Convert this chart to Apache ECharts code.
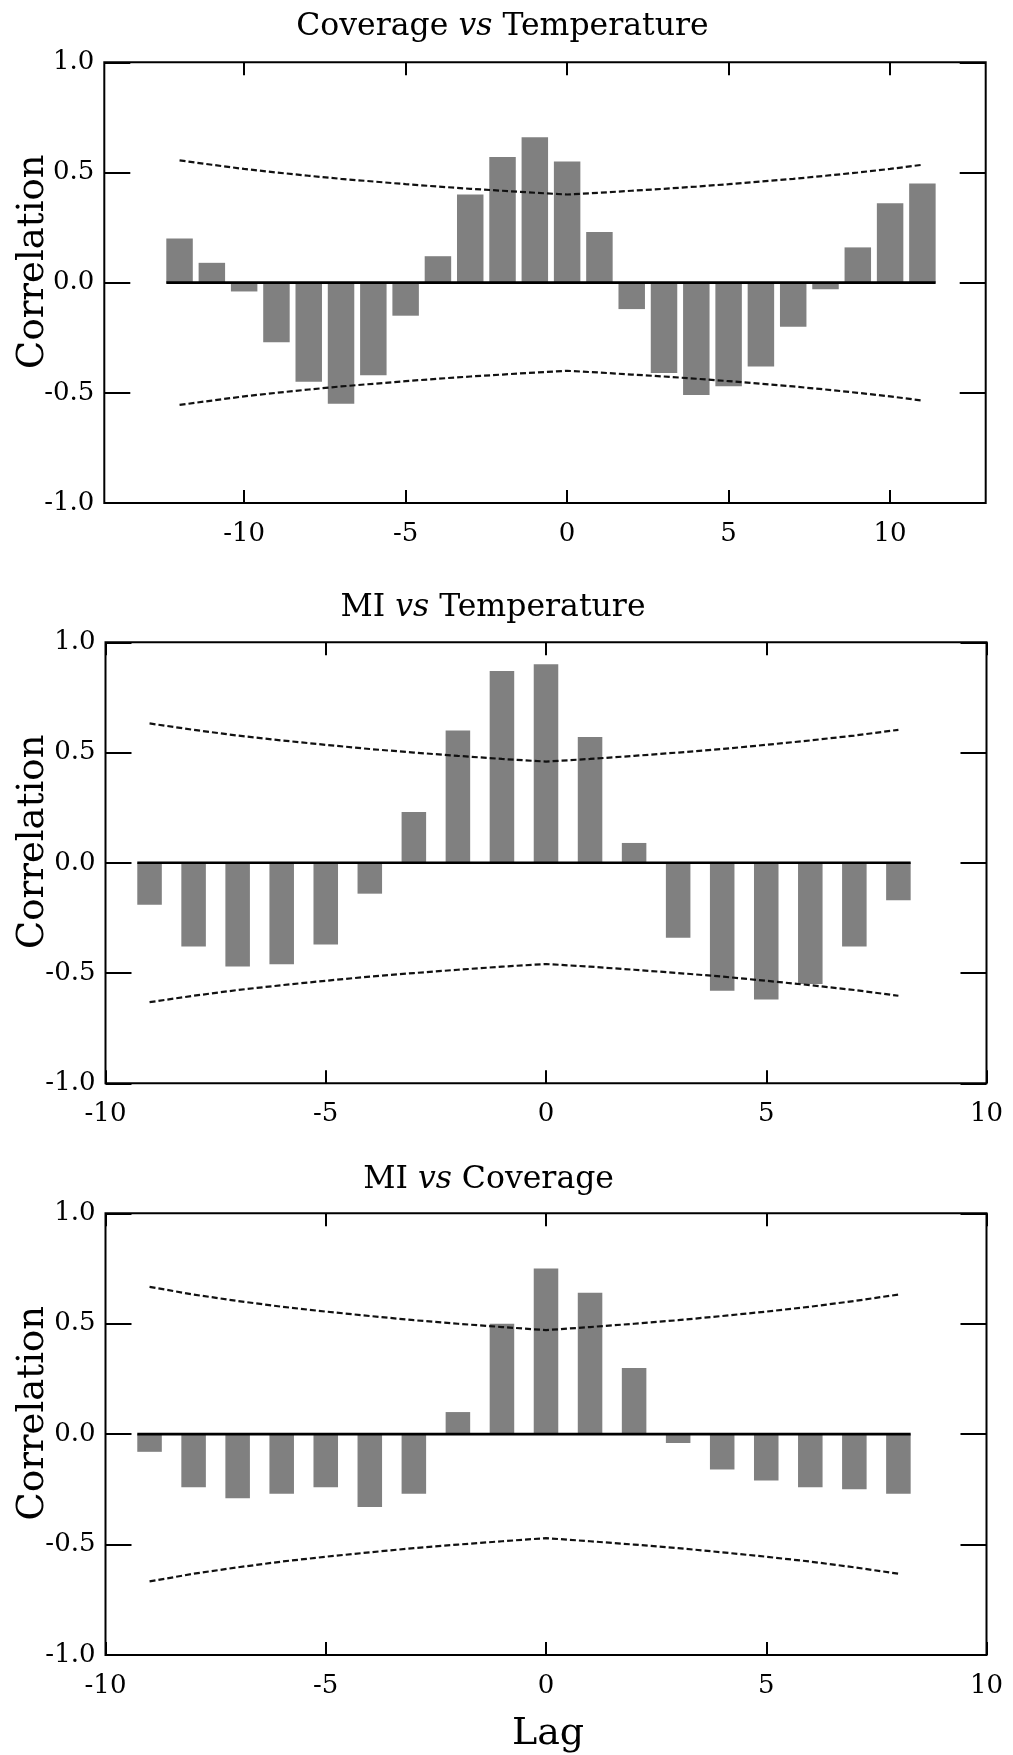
<!DOCTYPE html>
<html>
<head>
<meta charset="utf-8">
<script src="https://cdn.jsdelivr.net/npm/echarts@6/dist/echarts.min.js"></script>
<style>
html,body{margin:0;padding:0;background:#fff;}
#chart{width:1013px;height:1755px;}
</style>
</head>
<body>
<div id="chart"></div>
<script>
// ---------- DATA ----------
// Panel 1: Coverage vs Temperature
const lags1 = [-12,-11,-10,-9,-8,-7,-6,-5,-4,-3,-2,-1,0,1,2,3,4,5,6,7,8,9,10,11];
const ccf1  = [0.20,0.09,-0.04,-0.27,-0.45,-0.55,-0.42,-0.15,0.12,0.40,0.57,0.66,0.55,0.23,-0.12,-0.41,-0.51,-0.47,-0.38,-0.20,-0.03,0.16,0.36,0.45];
const upper1 = [0.555,0.535,0.516,0.500,0.485,0.471,0.459,0.447,0.436,0.426,0.417,0.408,0.400,0.408,0.417,0.426,0.436,0.447,0.459,0.471,0.485,0.500,0.516,0.535];
const lower1 = [-0.555,-0.535,-0.516,-0.500,-0.485,-0.471,-0.459,-0.447,-0.436,-0.426,-0.417,-0.408,-0.400,-0.408,-0.417,-0.426,-0.436,-0.447,-0.459,-0.471,-0.485,-0.500,-0.516,-0.535];

// Panel 2: MI vs Temperature
const lags2 = [-9,-8,-7,-6,-5,-4,-3,-2,-1,0,1,2,3,4,5,6,7,8];
const ccf2  = [-0.19,-0.38,-0.47,-0.46,-0.37,-0.14,0.23,0.60,0.87,0.90,0.57,0.09,-0.34,-0.58,-0.62,-0.55,-0.38,-0.17];
const upper2 = [0.632,0.603,0.577,0.555,0.535,0.516,0.500,0.485,0.471,0.459,0.471,0.485,0.500,0.516,0.535,0.555,0.577,0.603];
const lower2 = [-0.632,-0.603,-0.577,-0.555,-0.535,-0.516,-0.500,-0.485,-0.471,-0.459,-0.471,-0.485,-0.500,-0.516,-0.535,-0.555,-0.577,-0.603];

// Panel 3: MI vs Coverage
const lags3 = [-9,-8,-7,-6,-5,-4,-3,-2,-1,0,1,2,3,4,5,6,7,8];
const ccf3  = [-0.08,-0.24,-0.29,-0.27,-0.24,-0.33,-0.27,0.10,0.50,0.75,0.64,0.30,-0.04,-0.16,-0.21,-0.24,-0.25,-0.27];
const upper3 = [0.667,0.632,0.603,0.577,0.555,0.535,0.516,0.500,0.485,0.471,0.485,0.500,0.516,0.535,0.555,0.577,0.603,0.632];
const lower3 = [-0.667,-0.632,-0.603,-0.577,-0.555,-0.535,-0.516,-0.500,-0.485,-0.471,-0.485,-0.500,-0.516,-0.535,-0.555,-0.577,-0.603,-0.632];

// Tick labels
const xTicks = [-10,-5,0,5,10];
const yTicks = [-1.0,-0.5,0.0,0.5,1.0];

// Titles
const titles = [
  ['Coverage','vs','Temperature'],
  ['MI','vs','Temperature'],
  ['MI','vs','Coverage']
];
const yName = 'Correlation';
const xName = 'Lag';

// ---------- LAYOUT ----------
const FONT = '"DejaVu Serif", "Liberation Serif", serif';
const panels = [
  {lags:lags1, ccf:ccf1, up:upper1, lo:lower1, xmin:-14.33, xmax:12.96, barUnits:0.82,
   grid:{left:104.3, top:62.3, width:881.4, height:440.7}, titleX:502.5, titleY:26.5},
  {lags:lags2, ccf:ccf2, up:upper2, lo:lower2, xmin:-10, xmax:10, barUnits:0.557,
   grid:{left:105.5, top:642.3, width:881, height:441}, titleX:493, titleY:607.5},
  {lags:lags3, ccf:ccf3, up:upper3, lo:lower3, xmin:-10, xmax:10, barUnits:0.557,
   grid:{left:105.5, top:1213.3, width:881, height:441.7}, titleX:488.6, titleY:1180}
];

const grids = [], xAxes = [], yAxes = [], series = [], graphics = [];

panels.forEach((p, i) => {
  grids.push(Object.assign({show:true, borderColor:'#000', borderWidth:2, backgroundColor:'transparent', containLabel:false}, p.grid));
  const pxPerUnit = p.grid.width / (p.xmax - p.xmin);
  const barPx = p.barUnits * pxPerUnit;

  const xBase = {
    gridIndex:i, type:'value', min:p.xmin, max:p.xmax,
    axisLine:{show:false, onZero:false},
    splitLine:{show:false},
    axisTick:{show:true, inside:true, length:13, lineStyle:{color:'#000', width:2}, customValues:xTicks}
  };
  xAxes.push(Object.assign({}, xBase, {
    position:'bottom',
    axisLabel:{show:true, customValues:xTicks, color:'#000', fontFamily:FONT, fontSize:26, margin:18,
      formatter:v => String(v)}
  }));
  xAxes.push(Object.assign({}, xBase, {position:'top', axisLabel:{show:false}}));

  const yBase = {
    gridIndex:i, type:'value', min:yTicks[0], max:yTicks[yTicks.length-1], interval:0.5,
    axisLine:{show:false, onZero:false},
    splitLine:{show:false},
    axisTick:{show:true, inside:true, length:26, lineStyle:{color:'#000', width:2}}
  };
  yAxes.push(Object.assign({}, yBase, {
    position:'left',
    axisLabel:{show:true, color:'#000', fontFamily:FONT, fontSize:26, margin:10, padding:[8,0,0,0],
      formatter:v => v.toFixed(1)}
  }));
  yAxes.push(Object.assign({}, yBase, {position:'right', axisLabel:{show:false}}));

  const xi = i*2, yi = i*2;
  series.push({
    type:'bar', xAxisIndex:xi, yAxisIndex:yi, barWidth:barPx,
    itemStyle:{color:'#808080'}, silent:true, animation:false,
    data:p.lags.map((l,j)=>[l, p.ccf[j]]), z:2
  });
  const dash = {color:'#111', width:2.2, type:[6,3]};
  series.push({
    type:'line', xAxisIndex:xi, yAxisIndex:yi, showSymbol:false, symbol:'none', silent:true, animation:false,
    lineStyle:dash, data:p.lags.map((l,j)=>[l, p.up[j]]), z:3
  });
  series.push({
    type:'line', xAxisIndex:xi, yAxisIndex:yi, showSymbol:false, symbol:'none', silent:true, animation:false,
    lineStyle:dash, data:p.lags.map((l,j)=>[l, p.lo[j]]), z:3
  });
  const half = p.barUnits/2;
  series.push({
    type:'line', xAxisIndex:xi, yAxisIndex:yi, showSymbol:false, symbol:'none', silent:true, animation:false,
    lineStyle:{color:'#000', width:2.6, type:'solid'},
    data:[[p.lags[0]-half, 0],[p.lags[p.lags.length-1]+half, 0]], z:4
  });

  // title
  const t = titles[i];
  graphics.push({
    type:'text', x:p.titleX, y:p.titleY, silent:true,
    style:{
      text:'{n|' + t[0] + ' }{i|' + t[1] + '}{n| ' + t[2] + '}',
      align:'center', verticalAlign:'middle', textAlign:'center', textVerticalAlign:'middle',
      rich:{
        n:{fontFamily:FONT, fontSize:31.5, fill:'#000', color:'#000'},
        i:{fontFamily:FONT, fontSize:31.5, fontStyle:'italic', fill:'#000', color:'#000'}
      }
    }
  });
  // y name
  const cy = p.grid.top + p.grid.height/2 - 21;
  graphics.push({
    type:'text', x:33, y:cy, rotation:Math.PI/2, silent:true,
    style:{text:yName, fontFamily:FONT, fontSize:37, fill:'#000',
      align:'center', verticalAlign:'middle', textAlign:'center', textVerticalAlign:'middle'}
  });
});

graphics.push({
  type:'text', x:548, y:1734, silent:true,
  style:{text:xName, fontFamily:FONT, fontSize:38, fill:'#000',
    align:'center', verticalAlign:'middle', textAlign:'center', textVerticalAlign:'middle'}
});

const chart = echarts.init(document.getElementById('chart'), null, {renderer:'canvas'});
chart.setOption({
  animation:false,
  backgroundColor:'#fff',
  grid:grids, xAxis:xAxes, yAxis:yAxes, series:series, graphic:graphics
});
</script>
</body>
</html>
